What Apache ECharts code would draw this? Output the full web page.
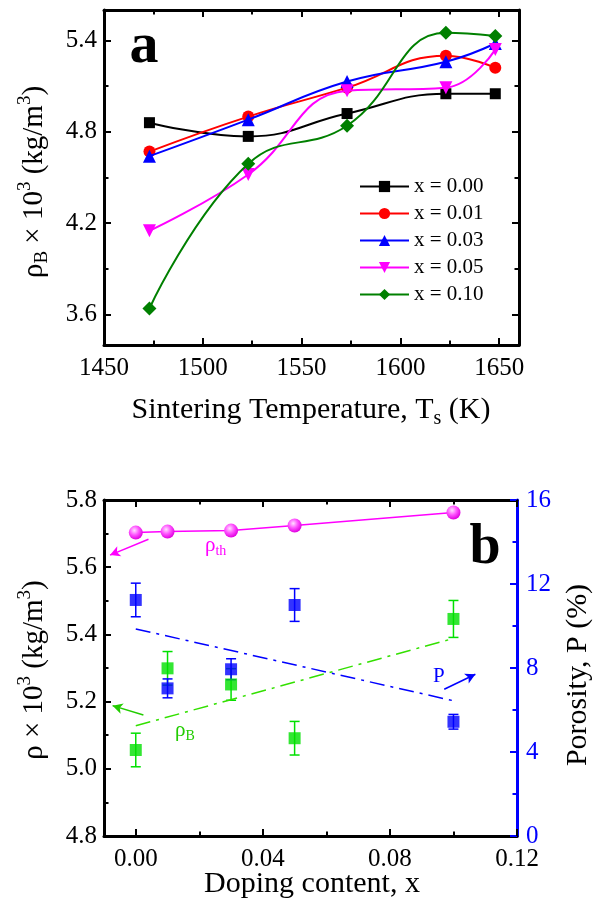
<!DOCTYPE html>
<html>
<head>
<meta charset="utf-8">
<script src="https://cdn.jsdelivr.net/npm/echarts@6/dist/echarts.min.js"></script>
<style>
html,body{margin:0;padding:0;background:#fff;}
#chart{width:594px;height:908px;}
</style>
</head>
<body>
<div id="chart"></div>
<script>
// ---------- Panel a data ----------
const tempK = [1473, 1523, 1573, 1623, 1648];
const seriesNamesA = ['x = 0.00', 'x = 0.01', 'x = 0.03', 'x = 0.05', 'x = 0.10'];
const rho000 = [4.86, 4.77, 4.92, 5.05, 5.05];
const rho001 = [4.67, 4.90, 5.09, 5.30, 5.22];
const rho003 = [4.64, 4.88, 5.13, 5.26, 5.38];
const rho005 = [4.15, 4.52, 5.07, 5.09, 5.34];
const rho010 = [3.64, 4.59, 4.84, 5.45, 5.43];
const xTicksA = [1450, 1500, 1550, 1600, 1650];
const xMinorA = [1475, 1525, 1575, 1625];
const yTicksA = [3.6, 4.2, 4.8, 5.4];
const yMinorA = [3.9, 4.5, 5.1];

// ---------- Panel b data ----------
const doping = [0, 0.01, 0.03, 0.05, 0.10];
const rhoTh = [5.703, 5.706, 5.709, 5.724, 5.763];
const rhoB = [5.056, 5.299, 5.251, 5.091, 5.446];
const rhoBErr = [0.05, 0.05, 0.047, 0.05, 0.055];
const porosity = [11.24, 7.03, 7.94, 11.0, 5.44];
const porosityErr = [0.8, 0.45, 0.5, 0.78, 0.35];
const fitX = [0, 0.10];
const rhoBFit = [5.128, 5.388];
const porosityFit = [9.86, 6.44];
const xTicksB = [0.00, 0.04, 0.08, 0.12];
const xMinorB = [0.02, 0.06, 0.10];
const yTicksB = [4.8, 5.0, 5.2, 5.4, 5.6, 5.8];
const yMinorB = [4.9, 5.1, 5.3, 5.5, 5.7];
const pTicks = [0, 4, 8, 12, 16];
const pMinor = [2, 6, 10, 14];

const FONT = 'Liberation Serif';
const BLACK = '#000';
const BLUE = '#0000ff';
const GREEN = '#00e000';
const MAGENTA = '#ff00ff';

function pairs(xs, ys) { return xs.map((x, i) => [x, ys[i]]); }
function triples(xs, ys, es) { return xs.map((x, i) => [x, ys[i], es[i]]); }

function mkAxis(opts) {
  const color = opts.color || BLACK;
  return {
    type: 'value',
    gridIndex: opts.gridIndex,
    position: opts.position,
    min: opts.min, max: opts.max,
    splitLine: { show: false },
    axisLine: { show: !opts.minor, onZero: false, lineStyle: { color: color, width: 3 } },
    axisTick: {
      show: true, inside: true,
      length: opts.minor ? 4.5 : 7,
      customValues: opts.values,
      lineStyle: { color: color, width: 2 }
    },
    axisLabel: {
      show: !!opts.label,
      customValues: opts.values,
      margin: opts.margin || 8,
      color: opts.labelColor || BLACK,
      fontFamily: FONT, fontSize: 25,
      formatter: opts.formatter
    }
  };
}

const fmt1 = v => v.toFixed(1);
const fmt2 = v => v.toFixed(2);
const fmt0 = v => String(Math.round(v));

const xAxes = [
  mkAxis({gridIndex:0, position:'bottom', min:1450, max:1660, values:xTicksA, label:true, margin:11, formatter: fmt0}),
  mkAxis({gridIndex:0, position:'bottom', min:1450, max:1660, values:xMinorA, minor:true}),
  mkAxis({gridIndex:0, position:'top', min:1450, max:1660, values:xTicksA}),
  mkAxis({gridIndex:0, position:'top', min:1450, max:1660, values:xMinorA, minor:true}),
  mkAxis({gridIndex:1, position:'bottom', min:-0.01, max:0.12, values:xTicksB, label:true, margin:11, formatter: fmt2}),
  mkAxis({gridIndex:1, position:'bottom', min:-0.01, max:0.12, values:xMinorB, minor:true}),
  mkAxis({gridIndex:1, position:'top', min:-0.01, max:0.12, values:xTicksB}),
  mkAxis({gridIndex:1, position:'top', min:-0.01, max:0.12, values:xMinorB, minor:true})
];
const yAxes = [
  mkAxis({gridIndex:0, position:'left', min:3.4, max:5.6, values:yTicksA, label:true, margin:7, formatter: fmt1}),
  mkAxis({gridIndex:0, position:'left', min:3.4, max:5.6, values:yMinorA, minor:true}),
  mkAxis({gridIndex:0, position:'right', min:3.4, max:5.6, values:yTicksA}),
  mkAxis({gridIndex:0, position:'right', min:3.4, max:5.6, values:yMinorA, minor:true}),
  mkAxis({gridIndex:1, position:'left', min:4.8, max:5.8, values:yTicksB, label:true, margin:7, formatter: fmt1}),
  mkAxis({gridIndex:1, position:'left', min:4.8, max:5.8, values:yMinorB, minor:true}),
  mkAxis({gridIndex:1, position:'right', min:0, max:16, values:pTicks, label:true, margin:9, color:BLUE, labelColor:BLUE, formatter: fmt0}),
  mkAxis({gridIndex:1, position:'right', min:0, max:16, values:pMinor, minor:true, color:BLUE})
];

const colorsA = [BLACK, '#ff0000', BLUE, MAGENTA, '#008000'];
const symbolsA = ['rect', 'circle', 'triangle', 'path://M0,0 L10,0 L5,9 Z', 'diamond'];
const sizesA = [11, 12, 13, 13, 14];
const valuesA = [rho000, rho001, rho003, rho005, rho010];

const seriesA = seriesNamesA.map((name, i) => ({
  name: name,
  type: 'line',
  xAxisIndex: 0, yAxisIndex: 0,
  data: pairs(tempK, valuesA[i]),
  smooth: 0.45,
  symbol: symbolsA[i],
  symbolSize: sizesA[i],
  showAllSymbol: true,
  lineStyle: { color: colorsA[i], width: 2 },
  itemStyle: { color: colorsA[i] },
  z: 3 + i
}));

function errorBarSeries(data, color, xIdx, yIdx) {
  return {
    type: 'custom',
    xAxisIndex: xIdx, yAxisIndex: yIdx,
    data: data,
    encode: { x: 0, y: 1 },
    silent: true,
    z: 2,
    renderItem: function (params, api) {
      const x = api.value(0), y = api.value(1), e = api.value(2);
      const t = api.coord([x, y + e]);
      const b = api.coord([x, y - e]);
      const hw = 5;
      const st = { stroke: color, lineWidth: 1.5 };
      return {
        type: 'group',
        children: [
          { type: 'line', shape: { x1: t[0], y1: t[1], x2: b[0], y2: b[1] }, style: st },
          { type: 'line', shape: { x1: t[0] - hw, y1: t[1], x2: t[0] + hw, y2: t[1] }, style: st },
          { type: 'line', shape: { x1: b[0] - hw, y1: b[1], x2: b[0] + hw, y2: b[1] }, style: st }
        ]
      };
    }
  };
}

const arrowML = (from, to, color) => ({
  silent: true,
  symbol: ['none', 'arrow'],
  symbolSize: [8, 10],
  label: { show: false },
  lineStyle: { color: color, width: 1.5, type: 'solid' },
  data: [[{ coord: from }, { coord: to }]],
  animation: false
});

const seriesB = [
  {
    name: 'rhoTh', type: 'line', xAxisIndex: 4, yAxisIndex: 4,
    data: pairs(doping, rhoTh),
    symbol: 'circle', symbolSize: 14,
    lineStyle: { color: MAGENTA, width: 1.5 },
    itemStyle: {
      color: { type: 'radial', x: 0.4, y: 0.35, r: 0.65,
        colorStops: [{ offset: 0, color: '#ffe0ff' }, { offset: 0.5, color: '#ff55ff' }, { offset: 1, color: '#e000e0' }] }
    },
    markLine: arrowML([0.0040, 5.683], [-0.0081, 5.636], MAGENTA),
    z: 4
  },
  {
    name: 'rhoBFit', type: 'line', xAxisIndex: 4, yAxisIndex: 4,
    data: pairs(fitX, rhoBFit), symbol: 'none',
    lineStyle: { color: '#33e000', width: 1.5, type: [15, 6, 3, 6] },
    markLine: arrowML([0.0024, 5.160], [-0.0073, 5.188], '#22cc00'),
    z: 3
  },
  {
    name: 'pFit', type: 'line', xAxisIndex: 4, yAxisIndex: 6,
    data: pairs(fitX, porosityFit), symbol: 'none',
    lineStyle: { color: BLUE, width: 1.5, type: [15, 6, 3, 6] },
    markLine: arrowML([0.0971, 6.99], [0.1069, 7.70], BLUE),
    z: 3
  },
  errorBarSeries(triples(doping, rhoB, rhoBErr), GREEN, 4, 4),
  errorBarSeries(triples(doping, porosity, porosityErr), BLUE, 4, 6),
  {
    name: 'rhoB', type: 'scatter', xAxisIndex: 4, yAxisIndex: 4,
    data: pairs(doping, rhoB), symbol: 'rect', symbolSize: 12,
    itemStyle: { color: GREEN }, z: 5
  },
  {
    name: 'P', type: 'scatter', xAxisIndex: 4, yAxisIndex: 6,
    data: pairs(doping, porosity), symbol: 'rect', symbolSize: 12,
    itemStyle: { color: BLUE }, z: 5
  }
];

function richLabel(text, cx, cy, rot, size, color, opts) {
  const s = size, ss = Math.round(size * 0.65);
  return {
    type: 'text', x: cx, y: cy, rotation: rot || 0, silent: true, z: 100,
    style: {
      text: text, x: 0, y: 0,
      align: (opts && opts.align) || 'center', verticalAlign: 'middle',
      fill: color || BLACK,
      rich: {
        n: { fontFamily: FONT, fontSize: s, lineHeight: Math.round(s * 1.25), fill: color || BLACK },
        sub: { fontFamily: FONT, fontSize: ss, lineHeight: ss, verticalAlign: 'bottom', fill: color || BLACK },
        sup: { fontFamily: FONT, fontSize: ss, lineHeight: ss, verticalAlign: 'top', fill: color || BLACK }
      }
    }
  };
}

const graphics = [
  { type: 'text', x: 144, y: 47, silent: true, z: 100,
    style: { text: 'a', x: 0, y: 0, align: 'center', verticalAlign: 'middle', fontFamily: FONT, fontWeight: 'bold', fontSize: 58, fill: BLACK } },
  { type: 'text', x: 485, y: 549, silent: true, z: 100,
    style: { text: 'b', x: 0, y: 0, align: 'center', verticalAlign: 'middle', fontFamily: FONT, fontWeight: 'bold', fontSize: 56, fill: BLACK } },
  richLabel('{n|ρ}{sub|B}{n| × 10}{sup|3}{n| (kg/m}{sup|3}{n|)}', 34, 182, Math.PI / 2, 29),
  richLabel('{n|Sintering Temperature, T}{sub|s}{n| (K)}', 311, 410, 0, 30),
  richLabel('{n|ρ × 10}{sup|3}{n| (kg/m}{sup|3}{n|)}', 34, 670, Math.PI / 2, 29),
  richLabel('{n|Porosity, P (%)}', 578, 675, Math.PI / 2, 30),
  richLabel('{n|Doping content, x}', 312, 884, 0, 30),
  richLabel('{n|ρ}{sub|th}', 205, 545, 0, 21, MAGENTA, { align: 'left' }),
  richLabel('{n|ρ}{sub|B}', 175, 730, 0, 21, '#22cc00', { align: 'left' }),
  richLabel('{n|P}', 433, 676, 0, 21, BLUE, { align: 'left' })
];

const chart = echarts.init(document.getElementById('chart'), null, { renderer: 'canvas' });
chart.setOption({
  animation: false,
  backgroundColor: '#fff',
  grid: [
    { left: 104, top: 10, width: 415, height: 335 },
    { left: 104, top: 500, width: 413, height: 336 }
  ],
  xAxis: xAxes,
  yAxis: yAxes,
  legend: {
    data: seriesNamesA,
    orient: 'vertical',
    left: 354, top: 171,
    itemWidth: 49, itemHeight: 14, itemGap: 6,
    textStyle: { fontFamily: FONT, fontSize: 21, color: BLACK, lineHeight: 21 },
    selectedMode: false
  },
  series: seriesA.concat(seriesB),
  graphic: graphics
});
</script>
</body>
</html>
